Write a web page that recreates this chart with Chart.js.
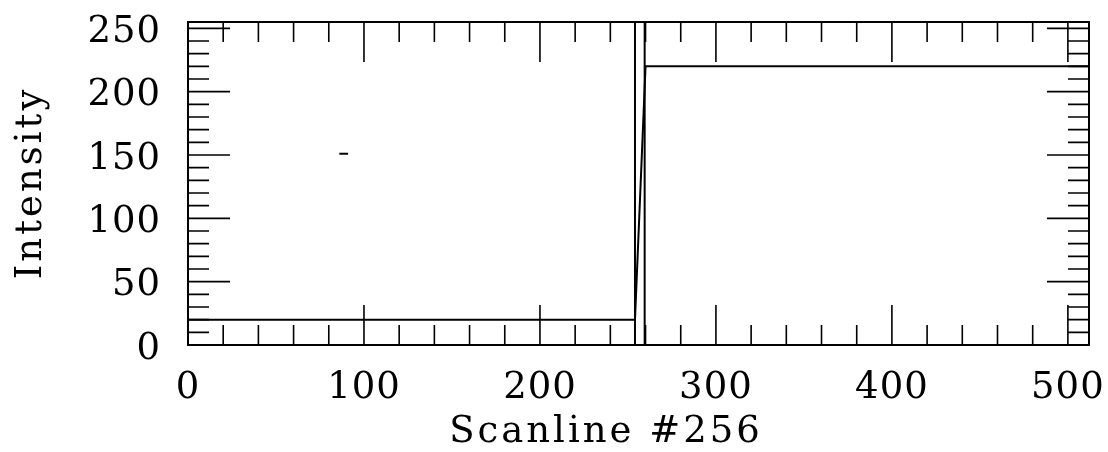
<!DOCTYPE html>
<html>
<head>
<meta charset="utf-8">
<title>Scanline #256</title>
<script src="https://cdn.jsdelivr.net/npm/chart.js@4.4.1/dist/chart.umd.min.js"></script>
<style>
  html, body { margin: 0; padding: 0; background: #fff; }
  canvas { display: block; }
</style>
</head>
<body>
<canvas id="scanline-chart" width="1108" height="452"></canvas>
<script>
// Intensity profile along scanline 256 (step edge around pixel 255)
const scanX = [0, 254, 260, 512];
const intensity = [20, 20, 220, 220];

// Edge markers, drawn as full-height vertical lines
const edgeX = [254, 259.5];

// Short stray dash left of the edge
const dashX = [86, 91];
const dashY = [151, 151];

// Axis ranges and labelled ticks
const xRange = [0, 512];
const yRange = [0, 255];
const xTickLabels = ['0', '100', '200', '300', '400', '500'];
const yTickLabels = ['0', '50', '100', '150', '200', '250'];
const xMinorStep = 20;
const yMinorStep = 10;

const xMajor = xTickLabels.map(Number);
const yMajor = yTickLabels.map(Number);

const FONT = '37px "DejaVu Serif"';

// Box frame with inward ticks on all four sides, plus tick labels and titles
const frameAxes = {
    id: 'frameAxes',
    afterDatasetsDraw(chart) {
        const { ctx, chartArea: area, scales: { x, y } } = chart;
        ctx.save();
        ctx.strokeStyle = '#000';
        ctx.lineWidth = 2;
        ctx.strokeRect(area.left, area.top, area.right - area.left, area.bottom - area.top);

        ctx.lineWidth = 1.6;
        ctx.beginPath();
        for (let v = xRange[0]; v <= xRange[1]; v += xMinorStep) {
            const len = xMajor.includes(v) ? 40 : 20;
            const px = x.getPixelForValue(v);
            ctx.moveTo(px, area.bottom);
            ctx.lineTo(px, area.bottom - len);
            ctx.moveTo(px, area.top);
            ctx.lineTo(px, area.top + len);
        }
        for (let v = yRange[0]; v <= yRange[1]; v += yMinorStep) {
            const len = yMajor.includes(v) ? 42 : 21;
            const py = y.getPixelForValue(v);
            ctx.moveTo(area.left, py);
            ctx.lineTo(area.left + len, py);
            ctx.moveTo(area.right, py);
            ctx.lineTo(area.right - len, py);
        }
        ctx.stroke();

        // Tick labels
        ctx.fillStyle = '#000';
        ctx.font = FONT;
        ctx.letterSpacing = '1px';
        ctx.textBaseline = 'alphabetic';
        ctx.textAlign = 'center';
        xTickLabels.forEach(lbl => {
            ctx.fillText(lbl, x.getPixelForValue(Number(lbl)), 398);
        });
        ctx.textAlign = 'right';
        yTickLabels.forEach(lbl => {
            ctx.fillText(lbl, 161, y.getPixelForValue(Number(lbl)) + 13.5);
        });

        // Axis titles
        ctx.letterSpacing = '3px';
        ctx.textAlign = 'center';
        ctx.fillText('Scanline #256', 606, 442);
        ctx.save();
        ctx.translate(41, 183);
        ctx.rotate(-Math.PI / 2);
        ctx.fillText('Intensity', 0, 0);
        ctx.restore();

        ctx.restore();
    }
};

function toPoints(xs, ys) {
    return xs.map((v, i) => ({ x: v, y: ys[i] }));
}

const lineStyle = {
    borderColor: '#000',
    borderWidth: 2,
    pointRadius: 0,
    tension: 0,
    fill: false
};

const datasets = [
    { label: 'Intensity', data: toPoints(scanX, intensity), ...lineStyle },
    ...edgeX.map(v => ({
        label: 'Edge',
        data: toPoints([v, v], yRange),
        ...lineStyle
    })),
    { label: 'Dash', data: toPoints(dashX, dashY), ...lineStyle }
];

new Chart(document.getElementById('scanline-chart'), {
    type: 'line',
    data: { datasets },
    options: {
        responsive: false,
        animation: false,
        devicePixelRatio: 1,
        layout: { padding: { left: 188, top: 22, right: 19, bottom: 107 } },
        scales: {
            x: { type: 'linear', min: xRange[0], max: xRange[1], display: false },
            y: { type: 'linear', min: yRange[0], max: yRange[1], display: false }
        },
        plugins: {
            legend: { display: false },
            tooltip: { enabled: false },
            colors: { enabled: false }
        }
    },
    plugins: [frameAxes]
});
</script>
</body>
</html>
